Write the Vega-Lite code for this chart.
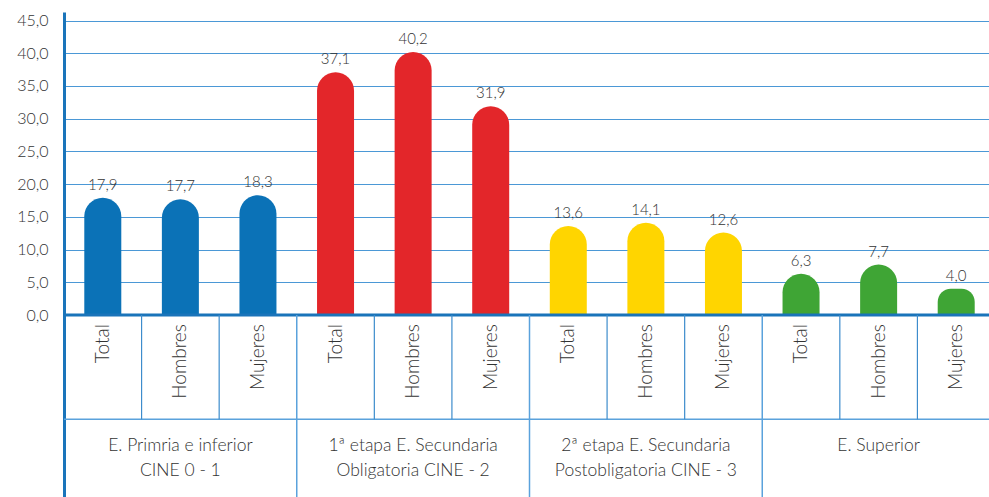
{
  "$schema": "https://vega.github.io/schema/vega-lite/v6.json",
  "width": 931,
  "height": 485,
  "autosize": {"type": "none"},
  "padding": {"left": 64, "top": 12, "right": -6, "bottom": 0},
  "config": {
    "view": {"stroke": null},
    "font": "Lato",
    "locale": {"number": {"decimal": ",", "thousands": ".", "grouping": [3], "currency": ["", " €"]}}
  },
  "data": {
    "values": [
      {"group": "g1", "sub": "Total", "key": "1 Total", "value": 17.9, "glabel": "E. Primria e inferior\nCINE 0 - 1"},
      {"group": "g1", "sub": "Hombres", "key": "1 Hombres", "value": 17.7, "glabel": "E. Primria e inferior\nCINE 0 - 1"},
      {"group": "g1", "sub": "Mujeres", "key": "1 Mujeres", "value": 18.3, "glabel": "E. Primria e inferior\nCINE 0 - 1"},
      {"group": "g2", "sub": "Total", "key": "2 Total", "value": 37.1, "glabel": "1ª etapa E. Secundaria\nObligatoria CINE - 2"},
      {"group": "g2", "sub": "Hombres", "key": "2 Hombres", "value": 40.2, "glabel": "1ª etapa E. Secundaria\nObligatoria CINE - 2"},
      {"group": "g2", "sub": "Mujeres", "key": "2 Mujeres", "value": 31.9, "glabel": "1ª etapa E. Secundaria\nObligatoria CINE - 2"},
      {"group": "g3", "sub": "Total", "key": "3 Total", "value": 13.6, "glabel": "2ª etapa E. Secundaria\nPostobligatoria CINE - 3"},
      {"group": "g3", "sub": "Hombres", "key": "3 Hombres", "value": 14.1, "glabel": "2ª etapa E. Secundaria\nPostobligatoria CINE - 3"},
      {"group": "g3", "sub": "Mujeres", "key": "3 Mujeres", "value": 12.6, "glabel": "2ª etapa E. Secundaria\nPostobligatoria CINE - 3"},
      {"group": "g4", "sub": "Total", "key": "4 Total", "value": 6.3, "glabel": "E. Superior"},
      {"group": "g4", "sub": "Hombres", "key": "4 Hombres", "value": 7.7, "glabel": "E. Superior"},
      {"group": "g4", "sub": "Mujeres", "key": "4 Mujeres", "value": 4.0, "glabel": "E. Superior"}
    ]
  },
  "layer": [
    {
      "mark": {"type": "bar", "width": 37, "cornerRadiusTopLeft": 18.5, "cornerRadiusTopRight": 18.5},
      "encoding": {
        "x": {"field": "key", "type": "nominal", "sort": null, "axis": null, "scale": {"paddingInner": 0, "paddingOuter": 0}},
        "y": {
          "field": "value", "type": "quantitative",
          "scale": {"domain": [-27.81, 46.3], "nice": false, "zero": false},
          "axis": {
            "values": [0, 5, 10, 15, 20, 25, 30, 35, 40, 45],
            "format": ".1f",
            "grid": true, "gridColor": "#4b98d6", "gridWidth": 1.2,
            "domainColor": "#1a74ba", "domainWidth": 3,
            "ticks": false, "labelPadding": 16, "labelFontSize": 16, "labelFontWeight": 300,
            "labelColor": "#333333", "labelFont": "Lato", "title": null
          }
        },
        "y2": {"datum": 0},
        "color": {
          "field": "group", "type": "nominal", "legend": null,
          "scale": {"domain": ["g1", "g2", "g3", "g4"], "range": ["#0b72b7", "#e3262a", "#ffd500", "#3fa535"]}
        }
      }
    },
    {
      "mark": {"type": "text", "baseline": "alphabetic", "dy": -8, "fontSize": 15, "fontWeight": 300, "color": "#333333"},
      "encoding": {
        "x": {"field": "key", "type": "nominal", "sort": null, "axis": null},
        "y": {"field": "value", "type": "quantitative"},
        "text": {"field": "value", "type": "quantitative", "format": ".1f"}
      }
    },
    {
      "data": {"values": [{"y": 0}]},
      "mark": {"type": "rule", "color": "#1a74ba", "strokeWidth": 3},
      "encoding": {"y": {"datum": 0}}
    },
    {
      "data": {"values": [{"y": 0}]},
      "mark": {"type": "rule", "color": "#5aa2dc", "strokeWidth": 1.5},
      "encoding": {"y": {"datum": -15.94}}
    },
    {
      "transform": [{"filter": "datum.sub != 'Total'"}],
      "mark": {"type": "rule", "color": "#3d8ccc", "strokeWidth": 1.2},
      "encoding": {
        "x": {"field": "key", "type": "nominal", "sort": null, "axis": null, "bandPosition": 0},
        "y": {"datum": 0},
        "y2": {"datum": -15.94}
      }
    },
    {
      "transform": [{"filter": "datum.sub == 'Total' && datum.group != 'g1'"}],
      "mark": {"type": "rule", "color": "#5aa2dc", "strokeWidth": 1.5},
      "encoding": {
        "x": {"field": "key", "type": "nominal", "sort": null, "axis": null, "bandPosition": 0},
        "y": {"datum": 0},
        "y2": {"datum": -27.81}
      }
    },
    {
      "mark": {"type": "text", "angle": 270, "align": "right", "baseline": "middle", "fontSize": 19, "color": "#333333", "fontWeight": 300},
      "encoding": {
        "x": {"field": "key", "type": "nominal", "sort": null, "axis": null},
        "y": {"datum": -1.4},
        "text": {"field": "sub"}
      }
    },
    {
      "transform": [{"filter": "datum.sub == 'Hombres'"}],
      "mark": {"type": "text", "align": "center", "baseline": "top", "lineBreak": "\n", "lineHeight": 25, "fontSize": 17.5, "color": "#333333", "fontWeight": 300},
      "encoding": {
        "x": {"field": "key", "type": "nominal", "sort": null, "axis": null},
        "y": {"datum": -18.6},
        "text": {"field": "glabel"}
      }
    }
  ]
}
